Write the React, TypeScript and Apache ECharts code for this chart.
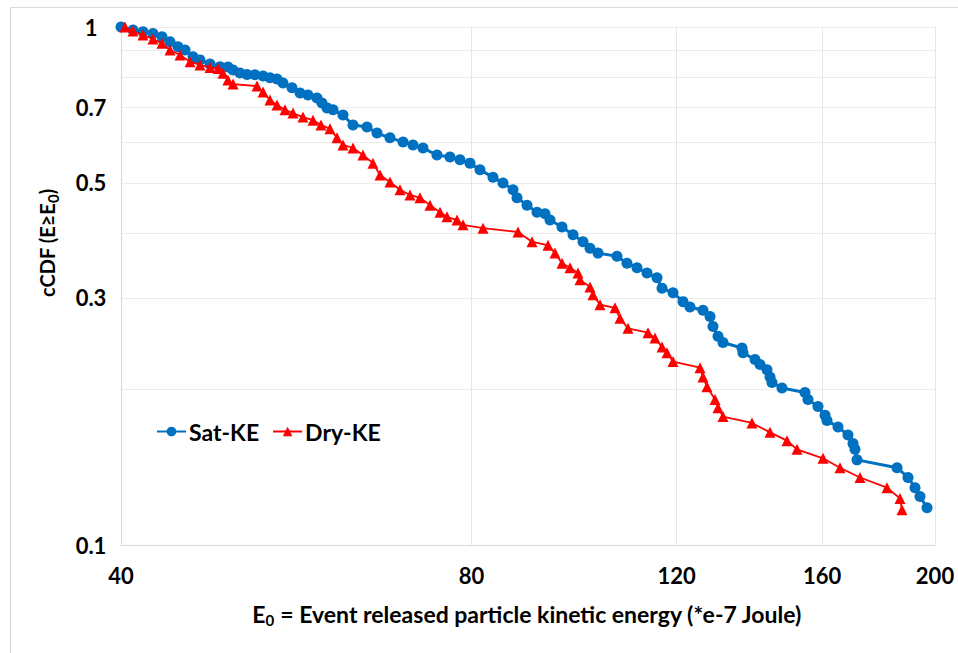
import React, { useEffect, useRef } from 'react';
import * as echarts from 'echarts';

// Sat-KE series (E0, cCDF)
const satKE_E0 = [40, 40.96, 41.78, 42.61, 43.38, 44.07, 44.77, 45.4, 46.12, 46.76, 47.7, 48.65, 49.42, 49.92, 50.61, 51.32, 52.13, 52.97, 53.7, 54.45, 55.1, 56.09, 56.99, 57.89, 58.93, 59.52, 60.11, 60.83, 62.04, 63.28, 65.06, 66.36, 68.08, 69.86, 71.25, 72.67, 74.71, 76.66, 78.19, 79.75, 81.34, 83.46, 85.13, 86.83, 87.52, 89.27, 91.05, 92.5, 93.42, 95.66, 97.77, 99.72, 101.11, 102.72, 106.65, 108.78, 110.95, 113.17, 115.43, 116.58, 119.14, 121.52, 123.21, 126.42, 128.18, 128.94, 130.23, 131.52, 136.55, 136.82, 140.11, 141.5, 143.47, 144.33, 144.9, 147.79, 154.67, 155.59, 158.7, 160.91, 161.55, 165.1, 168.39, 170.07, 170.74, 171.42, 185.53, 189.61, 192.25, 194.16, 196.87];
const satKE_cCDF = [1, 0.987, 0.979, 0.972, 0.958, 0.937, 0.916, 0.903, 0.876, 0.864, 0.848, 0.838, 0.837, 0.826, 0.815, 0.81, 0.809, 0.804, 0.798, 0.794, 0.78, 0.763, 0.746, 0.739, 0.729, 0.713, 0.698, 0.692, 0.676, 0.647, 0.641, 0.624, 0.611, 0.6, 0.592, 0.584, 0.566, 0.561, 0.554, 0.546, 0.53, 0.513, 0.5, 0.485, 0.468, 0.453, 0.439, 0.436, 0.424, 0.411, 0.397, 0.385, 0.374, 0.366, 0.361, 0.35, 0.343, 0.335, 0.328, 0.313, 0.307, 0.295, 0.288, 0.284, 0.276, 0.264, 0.253, 0.246, 0.24, 0.235, 0.228, 0.223, 0.218, 0.211, 0.206, 0.201, 0.197, 0.191, 0.185, 0.178, 0.174, 0.169, 0.163, 0.157, 0.153, 0.146, 0.141, 0.135, 0.129, 0.124, 0.118];

// Dry-KE series (E0, cCDF)
const dryKE_E0 = [40.32, 40.96, 41.78, 42.61, 43.38, 44.07, 44.95, 45.85, 46.76, 47.7, 48.46, 48.94, 49.42, 49.92, 52.34, 52.97, 53.7, 54.45, 55.32, 56.2, 57.32, 58.47, 59.4, 60.47, 61.31, 62.04, 63.28, 64.54, 65.83, 66.75, 68.08, 69.44, 70.83, 72.24, 73.69, 75.16, 76.21, 77.73, 78.66, 81.83, 87.69, 90.15, 93.05, 94.35, 95.66, 97.19, 98.74, 99.13, 101.11, 101.71, 103.13, 106.23, 107.29, 109.0, 113.39, 114.97, 116.58, 117.73, 119.14, 125.67, 126.42, 127.42, 129.46, 130.23, 131.52, 139.28, 144.33, 149.26, 152.24, 160.27, 165.75, 172.44, 181.89, 186.63, 187.37];
const dryKE_cCDF = [1, 0.982, 0.965, 0.948, 0.93, 0.903, 0.883, 0.857, 0.845, 0.835, 0.832, 0.814, 0.79, 0.776, 0.769, 0.749, 0.723, 0.707, 0.692, 0.682, 0.67, 0.661, 0.647, 0.636, 0.611, 0.592, 0.584, 0.566, 0.546, 0.518, 0.502, 0.485, 0.474, 0.468, 0.453, 0.439, 0.43, 0.424, 0.415, 0.409, 0.402, 0.385, 0.379, 0.366, 0.35, 0.343, 0.335, 0.325, 0.315, 0.304, 0.291, 0.287, 0.274, 0.262, 0.257, 0.251, 0.241, 0.235, 0.226, 0.22, 0.211, 0.202, 0.191, 0.184, 0.177, 0.172, 0.165, 0.159, 0.153, 0.147, 0.141, 0.135, 0.129, 0.123, 0.117];

const xTickLabels = [40, 80, 120, 160, 200];
const yTickLabels = [0.1, 0.3, 0.5, 0.7, 1];
const yGridValues = [0.1, 0.2, 0.3, 0.4, 0.5, 0.6, 0.7, 0.8, 0.9, 1];

const FONT = 'Lato';

export default function App() {
  const ref = useRef<HTMLDivElement>(null);
  useEffect(() => {
    if (!ref.current) return;
    const chart = echarts.init(ref.current, undefined, { renderer: 'svg' });
    const sat = satKE_E0.map((x, i) => [x, satKE_cCDF[i]]);
    const dry = dryKE_E0.map((x, i) => [x, dryKE_cCDF[i]]);
    const fmt = (v: number) => String(parseFloat(Number(v).toPrecision(3)));
    const titleRich = (size: number) => ({
      m: { fontFamily: FONT, fontWeight: 'bold', fontSize: size, lineHeight: 26, fill: '#000' },
      s: { fontFamily: FONT, fontWeight: 'bold', fontSize: 15, lineHeight: 15, verticalAlign: 'bottom', fill: '#000' },
    });
    chart.setOption({
      animation: false,
      backgroundColor: '#ffffff',
      grid: { left: 121, top: 27, width: 814, height: 518, containLabel: false },
      legend: {
        left: 156,
        top: 420,
        padding: 0,
        itemWidth: 29,
        itemHeight: 12,
        itemGap: 13,
        textStyle: { fontFamily: FONT, fontWeight: 'bold', fontSize: 23, color: '#000', padding: [0, 0, 0, -2] },
        data: ['Sat-KE', 'Dry-KE'],
      },
      xAxis: {
        type: 'log',
        logBase: 10,
        min: 40,
        max: 200,
        axisLine: { show: true, lineStyle: { color: '#d9d9d9', width: 1 } },
        axisTick: { show: false, customValues: xTickLabels },
        axisLabel: {
          customValues: xTickLabels,
          margin: 19,
          fontFamily: FONT,
          fontWeight: 'bold',
          fontSize: 22,
          color: '#000',
          formatter: fmt,
        },
        splitLine: { show: true, lineStyle: { color: '#e6e6e6', width: 1 } },
      },
      yAxis: {
        type: 'log',
        logBase: 10,
        min: 0.1,
        max: 1,
        axisLine: { show: true, lineStyle: { color: '#d9d9d9', width: 1 } },
        axisTick: { show: false, customValues: yGridValues },
        axisLabel: {
          customValues: yTickLabels,
          margin: 30,
          align: 'center',
          fontFamily: FONT,
          fontWeight: 'bold',
          fontSize: 22,
          color: '#000',
          formatter: fmt,
        },
        splitLine: { show: true, lineStyle: { color: '#ececec', width: 1 } },
      },
      graphic: [
        {
          type: 'rect',
          silent: true,
          shape: { x: 10.5, y: 7.5, width: 980, height: 680 },
          style: { fill: 'none', stroke: '#d9d9d9', lineWidth: 1 },
        },
        {
          type: 'text',
          x: 47,
          y: 243,
          rotation: Math.PI / 2,
          style: {
            text: '{m|cCDF (E≥E}{s|0}{m|)}',
            align: 'center',
            verticalAlign: 'middle',
            fill: '#000',
            rich: titleRich(20),
          },
        },
        {
          type: 'text',
          x: 527,
          y: 614,
          style: {
            text: '{m|E}{s|0}{m| = Event released particle kinetic energy (*e-7 Joule)}',
            align: 'center',
            verticalAlign: 'middle',
            fill: '#000',
            rich: titleRich(23),
          },
        },
      ],
      series: [
        {
          name: 'Sat-KE',
          type: 'line',
          data: sat,
          symbol: 'circle',
          symbolSize: 11,
          itemStyle: { color: '#0070C0' },
          lineStyle: { color: '#0070C0', width: 3 },
          z: 2,
        },
        {
          name: 'Dry-KE',
          type: 'line',
          data: dry,
          symbol: 'triangle',
          symbolSize: 11,
          itemStyle: { color: '#FF0000' },
          lineStyle: { color: '#FF0000', width: 1.8 },
          z: 3,
        },
      ],
    });
    return () => chart.dispose();
  }, []);
  return <div ref={ref} style={{ position: 'fixed', left: 0, top: 0, width: 958, height: 653 }} />;
}
